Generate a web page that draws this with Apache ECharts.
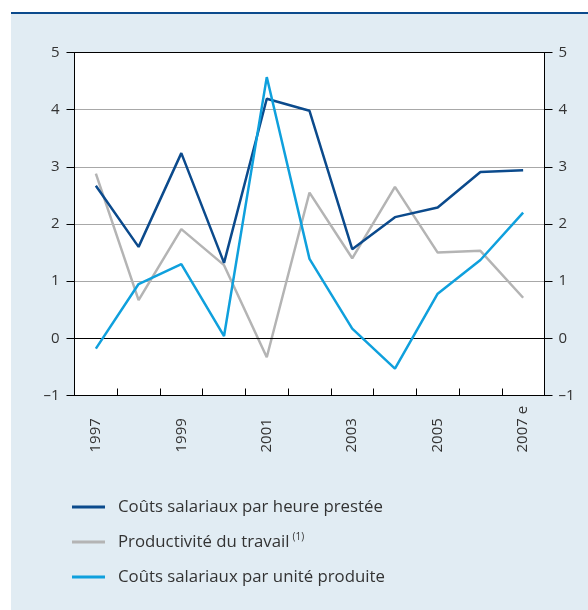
<!DOCTYPE html>
<html>
<head>
<meta charset="utf-8">
<script src="https://cdn.jsdelivr.net/npm/echarts@6/dist/echarts.min.js"></script>
<style>
  html, body { margin: 0; padding: 0; background: #ffffff; }
  #wrap { position: relative; width: 588px; height: 610px; overflow: hidden; }
  #panel { position: absolute; left: 11px; top: 14px; width: 577px; height: 596px; background: #e1ecf3; }
  #rule { position: absolute; left: 11px; top: 12px; width: 577px; height: 2px; background: #0b4a8c; }
  #chart { position: absolute; left: 0; top: 0; width: 588px; height: 610px; }
</style>
</head>
<body>
<div id="wrap">
  <div id="panel"></div>
  <div id="rule"></div>
  <div id="chart"></div>
</div>
<script>
// Years on the horizontal axis (2007 is an estimate)
const years = ['1997', '1998', '1999', '2000', '2001', '2002', '2003', '2004', '2005', '2006', '2007 e'];

// Annual change, in %
const coutsHeure = [2.67, 1.60, 3.24, 1.32, 4.19, 3.98, 1.56, 2.12, 2.29, 2.91, 2.94];
const productivite = [2.88, 0.67, 1.91, 1.28, -0.33, 2.55, 1.40, 2.65, 1.50, 1.53, 0.71];
const coutsUnite = [-0.18, 0.95, 1.30, 0.04, 4.57, 1.39, 0.17, -0.53, 0.78, 1.37, 2.20];

const seriesNames = [
  'Coûts salariaux par heure prestée',
  'Productivité du travail',
  'Coûts salariaux par unité produite'
];

const FONT = '"Open Sans", "Noto Sans", sans-serif';
const TEXT = '#333333';
const DARK = '#0b4a8c';
const GREY = '#b4b4b4';
const LIGHT = '#0fa0dd';

const fmtY = v => (v < 0 ? '\u2013' + Math.abs(v) : String(v));

const yBase = {
  type: 'value',
  min: -1,
  max: 5,
  interval: 1,
  axisLine: { show: true, lineStyle: { color: '#000', width: 1 } },
  axisTick: { show: true, inside: false, length: 8, lineStyle: { color: '#000', width: 1 } },
  axisLabel: { color: TEXT, fontFamily: FONT, fontSize: 15, formatter: fmtY }
};

const chart = echarts.init(document.getElementById('chart'), null, { renderer: 'canvas' });

chart.setOption({
  backgroundColor: 'transparent',
  animation: false,
  textStyle: { fontFamily: FONT },
  grid: {
    left: 74.5, right: 43.5, top: 52.5, bottom: 214.5,
    show: true, backgroundColor: '#ffffff', borderColor: '#000', borderWidth: 1
  },
  xAxis: {
    type: 'category',
    data: years,
    boundaryGap: true,
    z: 10,
    axisLine: { show: true, onZero: false, lineStyle: { color: '#000', width: 1 } },
    axisTick: { show: true, inside: true, length: 7, interval: 0, lineStyle: { color: '#000', width: 1 } },
    axisLabel: {
      interval: 1,
      rotate: 90,
      align: 'left',
      verticalAlign: 'middle',
      margin: 57,
      color: TEXT,
      fontFamily: FONT,
      fontSize: 15
    },
    splitLine: { show: false }
  },
  yAxis: [
    Object.assign({}, yBase, {
      position: 'left',
      axisLabel: Object.assign({}, yBase.axisLabel, { margin: 15 }),
      splitLine: { show: true, showMinLine: false, showMaxLine: false, lineStyle: { color: '#a8a8a8', width: 1 } }
    }),
    Object.assign({}, yBase, {
      position: 'right',
      axisLabel: Object.assign({}, yBase.axisLabel, { margin: 14 }),
      splitLine: { show: false }
    })
  ],
  legend: {
    orient: 'vertical',
    left: 72,
    top: 496,
    padding: 0,
    itemWidth: 33,
    itemHeight: 3,
    itemGap: 13,
    icon: 'rect',
    data: seriesNames,
    formatter: name => name === seriesNames[1] ? '{t|' + name + '}{s|(1)}' : '{t|' + name + '}',
    textStyle: {
      color: TEXT,
      fontFamily: FONT,
      fontSize: 16.8,
      lineHeight: 22,
      padding: [0, 0, 0, 8],
      rich: {
        t: { color: TEXT, fontFamily: FONT, fontSize: 16.8, lineHeight: 22 },
        s: { color: TEXT, fontFamily: FONT, fontSize: 10, padding: [0, 0, 10, 3] }
      }
    }
  },
  series: [
    {
      name: seriesNames[1],
      type: 'line',
      data: productivite,
      symbol: 'none',
      lineStyle: { color: GREY, width: 2.5 },
      itemStyle: { color: GREY },
      z: 3,
      markLine: {
        silent: true,
        symbol: 'none',
        label: { show: false },
        lineStyle: { color: '#000', width: 1, type: 'solid' },
        data: [{ yAxis: 0 }]
      }
    },
    {
      name: seriesNames[0],
      type: 'line',
      data: coutsHeure,
      symbol: 'none',
      lineStyle: { color: DARK, width: 2.5 },
      itemStyle: { color: DARK },
      z: 4
    },
    {
      name: seriesNames[2],
      type: 'line',
      data: coutsUnite,
      symbol: 'none',
      lineStyle: { color: LIGHT, width: 2.5 },
      itemStyle: { color: LIGHT },
      z: 5
    }
  ]
});
</script>
</body>
</html>
